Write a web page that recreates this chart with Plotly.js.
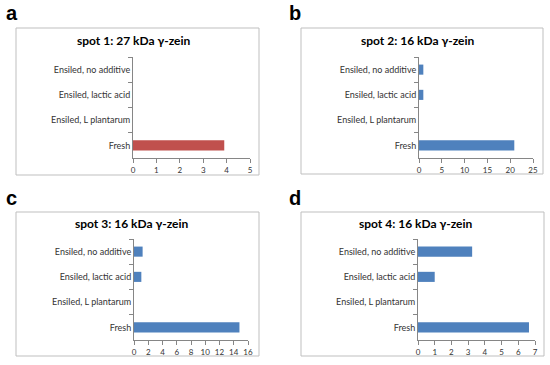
<!DOCTYPE html>
<html>
<head>
<meta charset="utf-8">
<script src="https://cdn.plot.ly/plotly-3.0.1.min.js"></script>
<style>html,body{margin:0;padding:0;background:#fff;}#chart{width:550px;height:365px;}</style>
</head>
<body>
<div id="chart"></div>
<script>
// Data
var categories = ["Fresh", "Ensiled, L plantarum", "Ensiled, lactic acid", "Ensiled, no additive"];
var spot1 = [3.9, 0, 0, 0];
var spot2 = [20.9, 0, 0.95, 0.95];
var spot3 = [14.8, 0, 1.03, 1.21];
var spot4 = [6.64, 0, 1.0, 3.24];
var titles = ["spot 1: 27 kDa γ-zein", "spot 2: 16 kDa γ-zein", "spot 3: 16 kDa γ-zein", "spot 4: 16 kDa γ-zein"];
var panelLetters = ["a", "b", "c", "d"];
var xMax = [5, 25, 16, 7];
var xStep = [1, 5, 2, 1];
var colors = ["#c0504d", "#4f81bd", "#4f81bd", "#4f81bd"];
var seriesList = [spot1, spot2, spot3, spot4];

var W = 550, H = 365;
function px(x) { return x / W; }
function py(y) { return 1 - y / H; }

// plot area pixel boxes [x0, x1, y0(top), y1(bottom)]
var plotBoxes = [
  [133, 250, 57, 158],
  [419, 533, 57, 158],
  [134, 248, 239, 340],
  [418, 535, 239, 340]
];
var frameBoxes = [
  [16, 259, 28, 175],
  [301, 543, 28, 174],
  [16, 259, 212, 356],
  [301, 544, 212, 356]
];
var titlePos = [[133, 40], [417, 40], [131, 223], [415, 223]];
var letterPos = [[12, 13], [295, 13], [11, 198], [295, 198]];

var font = "Lato, 'Open Sans', sans-serif";
var traces = [];
var layout = {
  width: W, height: H,
  margin: {l: 0, r: 0, t: 0, b: 0},
  paper_bgcolor: "#fff", plot_bgcolor: "#fff",
  showlegend: false,
  bargap: 0.6,
  shapes: [], annotations: []
};

for (var i = 0; i < 4; i++) {
  var n = i === 0 ? "" : String(i + 1);
  traces.push({
    type: "bar", orientation: "h",
    x: seriesList[i], y: categories,
    xaxis: "x" + n, yaxis: "y" + n,
    marker: {color: colors[i]},
    hoverinfo: "x+y"
  });
  var pb = plotBoxes[i];
  layout["xaxis" + n] = {
    domain: [px(pb[0]), px(pb[1])],
    anchor: "y" + n,
    range: [0, xMax[i]],
    dtick: xStep[i], tick0: 0,
    showgrid: false, zeroline: false,
    showline: true, linecolor: "#868686", linewidth: 1,
    ticks: "outside", ticklen: 4, tickcolor: "#868686",
    tickfont: {family: font, size: 8, color: "#333"},
    fixedrange: true
  };
  layout["yaxis" + n] = {
    domain: [py(pb[3]), py(pb[2])],
    anchor: "x" + n,
    type: "category",
    categoryorder: "array", categoryarray: categories,
    range: [-0.5, 3.5],
    showgrid: false, zeroline: false,
    showline: true, linecolor: "#868686", linewidth: 1,
    ticks: "outside", ticklen: 4, tickcolor: "#868686",
    tickson: "boundaries",
    tickfont: {family: font, size: 9, color: "#333"},
    fixedrange: true
  };
  var fb = frameBoxes[i];
  layout.shapes.push({
    type: "rect", xref: "paper", yref: "paper",
    x0: px(fb[0]), x1: px(fb[1]), y0: py(fb[3]), y1: py(fb[2]),
    line: {color: "#bfbfbf", width: 1}, fillcolor: "rgba(0,0,0,0)", layer: "below"
  });
  layout.annotations.push({
    xref: "paper", yref: "paper",
    x: px(titlePos[i][0]), y: py(titlePos[i][1]),
    xanchor: "center", yanchor: "middle",
    text: "<b>" + titles[i] + "</b>", showarrow: false,
    font: {family: font, size: 12, color: "#000"}
  });
  layout.annotations.push({
    xref: "paper", yref: "paper",
    x: px(letterPos[i][0]), y: py(letterPos[i][1]),
    xanchor: "center", yanchor: "middle",
    text: "<b>" + panelLetters[i] + "</b>", showarrow: false,
    font: {family: "Liberation Sans, Arial, sans-serif", size: 20, color: "#000"}
  });
}

Plotly.newPlot("chart", traces, layout, {displayModeBar: false, staticPlot: true});
</script>
</body>
</html>
